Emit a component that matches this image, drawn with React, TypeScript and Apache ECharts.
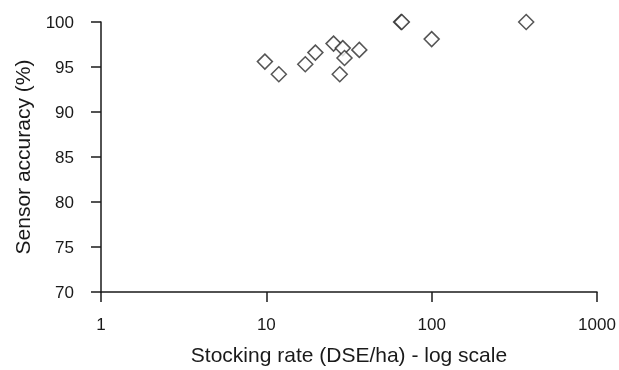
import React, { useEffect, useRef } from "react";
import * as echarts from "echarts";

const stockingRate = [9.8, 11.9, 17.2, 19.8, 25.5, 29.0, 29.7, 27.8, 36.5, 65.3, 66, 100, 373];
const sensorAccuracy = [95.6, 94.2, 95.3, 96.6, 97.6, 97.1, 96.0, 94.2, 96.9, 100, 100, 98.1, 100];
const xTicks = [1, 10, 100, 1000];
const yTicks = [70, 75, 80, 85, 90, 95, 100];

export default function App() {
  const ref = useRef<HTMLDivElement>(null);
  useEffect(() => {
    const chart = echarts.init(ref.current!, null, { renderer: "svg" });
    const font = "Liberation Sans, Arial, Helvetica, sans-serif";
    const ink = "#1a1a1a";
    chart.setOption({
      animation: false,
      grid: { left: 101, right: 22, top: 22, bottom: 74, containLabel: false },
      xAxis: {
        type: "log",
        logBase: 10,
        min: xTicks[0],
        max: xTicks[xTicks.length - 1],
        name: "Stocking rate (DSE/ha) - log scale",
        nameLocation: "middle",
        nameGap: 52,
        nameTextStyle: { color: ink, fontSize: 21, fontFamily: font },
        axisLine: { show: true, lineStyle: { color: ink, width: 1.5 } },
        axisTick: { show: true, inside: false, length: 10, lineStyle: { color: ink, width: 1.5 } },
        minorTick: { show: false },
        splitLine: { show: false },
        axisLabel: {
          color: ink,
          fontSize: 17,
          fontFamily: font,
          margin: 24,
          formatter: (v: number) => String(Math.round(v)),
        },
      },
      yAxis: {
        type: "value",
        min: yTicks[0],
        max: yTicks[yTicks.length - 1],
        interval: 5,
        name: "Sensor accuracy (%)",
        nameLocation: "middle",
        nameGap: 68,
        nameRotate: 90,
        nameTextStyle: { color: ink, fontSize: 21, fontFamily: font },
        axisLine: { show: true, lineStyle: { color: ink, width: 1.5 } },
        axisTick: { show: true, inside: false, length: 10, lineStyle: { color: ink, width: 1.5 } },
        splitLine: { show: false },
        axisLabel: { color: ink, fontSize: 17, fontFamily: font, margin: 27 },
      },
      series: [
        {
          type: "scatter",
          symbol: "diamond",
          symbolSize: 15,
          data: stockingRate.map((x, i) => [x, sensorAccuracy[i]]),
          itemStyle: { color: "#fff", borderColor: "#2a2a2a", borderWidth: 1.5 },
        },
      ],
    });
    return () => chart.dispose();
  }, []);
  return (
    <div
      ref={ref}
      style={{ position: "fixed", left: 0, top: 0, width: 619, height: 370 }}
    />
  );
}
